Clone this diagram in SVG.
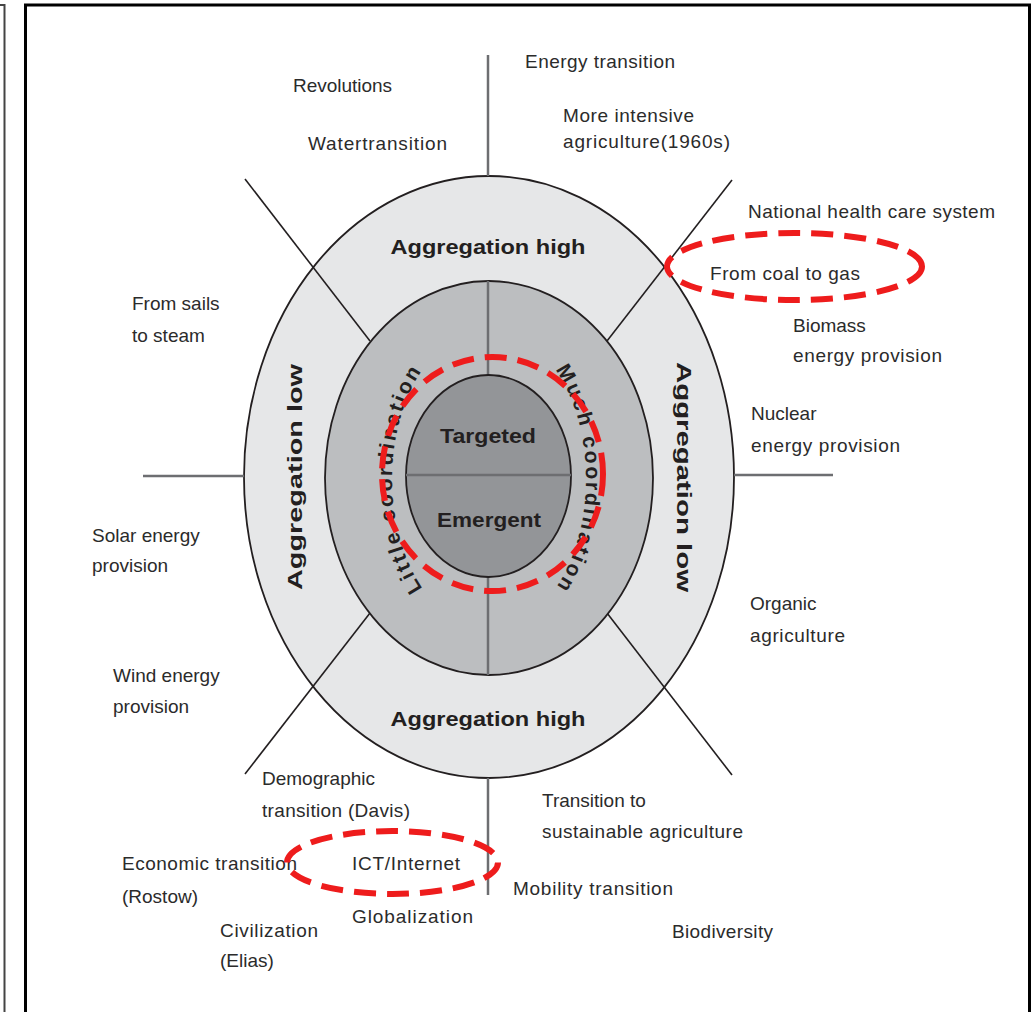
<svg xmlns="http://www.w3.org/2000/svg" width="1032" height="1012" viewBox="0 0 1032 1012">
<style>
.lbl{font-family:"Liberation Sans",Arial,sans-serif;font-size:19px;fill:#2b2b2b}
.bold{font-family:"Liberation Sans",Arial,sans-serif;font-size:21px;font-weight:bold;fill:#231f20}
.curve{font-family:"Liberation Sans",Arial,sans-serif;font-size:21px;font-weight:bold;fill:#231f20;letter-spacing:2.5px}
.spoke{stroke:#6d6e71;stroke-width:2.5;fill:none}
.diag{stroke:#231f20;stroke-width:1.6;fill:none}
.ring{stroke:#231f20;stroke-width:1.8}
.hl{fill:none;stroke:#ee1c1c;stroke-width:6;stroke-dasharray:22 11}
</style>
<defs>
<path id="arcL" d="M489 629 A97 150 0 0 1 489 329"/>
<path id="arcR" d="M489 329 A97 150 0 0 1 489 629"/>
</defs>
<rect width="1032" height="1012" fill="#fff"/>
<g id="frame">
<path d="M0 5 H4.5 V1012" stroke="#444" stroke-width="2" fill="none"/>
<path d="M25.5 1012 V5 H1029.5 V1012" stroke="#000" stroke-width="3" fill="none"/>
</g>
<g id="outer-ring">
<ellipse class="ring" cx="489" cy="477" rx="245" ry="301" fill="#e6e7e8"/>
</g>
<g id="connectors">
<line class="spoke" x1="488" y1="55" x2="488" y2="176"/>
<line class="spoke" x1="488" y1="778" x2="488" y2="895"/>
<line class="spoke" x1="143" y1="476" x2="244" y2="476"/>
<line class="spoke" x1="734" y1="475" x2="833" y2="475"/>
<line class="diag" x1="245" y1="179" x2="370" y2="341"/>
<line class="diag" x1="732" y1="180" x2="607" y2="341"/>
<line class="diag" x1="245" y1="774" x2="370" y2="613"/>
<line class="diag" x1="732" y1="775" x2="607" y2="613"/>
</g>
<g id="middle-ring">
<ellipse class="ring" cx="489" cy="478" rx="164" ry="197" fill="#bcbec0"/>
<line class="spoke" x1="488" y1="281" x2="488" y2="375"/>
<line class="spoke" x1="488" y1="577" x2="488" y2="675"/>
</g>
<g id="core">
<ellipse class="ring" cx="488.5" cy="476" rx="82.5" ry="101" fill="#939598"/>
<line class="spoke" x1="406" y1="475" x2="571" y2="475" stroke="#3a3a3a"/>
</g>
<g id="ring-labels">
<text class="bold" x="488" y="254" text-anchor="middle" textLength="195" lengthAdjust="spacingAndGlyphs">Aggregation high</text>
<text class="bold" x="488" y="726" text-anchor="middle" textLength="195" lengthAdjust="spacingAndGlyphs">Aggregation high</text>
<text class="bold" transform="translate(302 477) rotate(-90)" text-anchor="middle" textLength="226" lengthAdjust="spacingAndGlyphs">Aggregation low</text>
<text class="bold" transform="translate(677 477) rotate(90)" text-anchor="middle" textLength="230" lengthAdjust="spacingAndGlyphs">Aggregation low</text>
<text class="curve"><textPath href="#arcL" startOffset="50%" text-anchor="middle">Little coordination</textPath></text>
<text class="curve"><textPath href="#arcR" startOffset="50%" text-anchor="middle">Much coordination</textPath></text>
<text class="bold" x="488" y="443" text-anchor="middle" textLength="96" lengthAdjust="spacingAndGlyphs">Targeted</text>
<text class="bold" x="489" y="527" text-anchor="middle" textLength="104" lengthAdjust="spacingAndGlyphs">Emergent</text>
</g>
<g id="label-revolutions"><text class="lbl" x="293" y="92" textLength="99">Revolutions</text></g>
<g id="label-water"><text class="lbl" x="308" y="150" textLength="139">Watertransition</text></g>
<g id="label-energy"><text class="lbl" x="525" y="68" textLength="150">Energy transition</text></g>
<g id="label-agri1960"><text class="lbl"><tspan x="563" y="122" textLength="131">More intensive</tspan><tspan x="563" y="148" textLength="167">agriculture(1960s)</tspan></text></g>
<g id="label-health"><text class="lbl" x="748" y="218" textLength="247">National health care system</text></g>
<g id="label-coalgas"><text class="lbl" x="710" y="280" textLength="150">From coal to gas</text></g>
<g id="label-biomass"><text class="lbl"><tspan x="793" y="332">Biomass</tspan><tspan x="793" y="362" textLength="149">energy provision</tspan></text></g>
<g id="label-nuclear"><text class="lbl"><tspan x="751" y="420">Nuclear</tspan><tspan x="751" y="452" textLength="149">energy provision</tspan></text></g>
<g id="label-organic"><text class="lbl"><tspan x="750" y="610">Organic</tspan><tspan x="750" y="642" textLength="95">agriculture</tspan></text></g>
<g id="label-sails"><text class="lbl"><tspan x="132" y="310">From sails</tspan><tspan x="132" y="342">to steam</tspan></text></g>
<g id="label-solar"><text class="lbl"><tspan x="92" y="542">Solar energy</tspan><tspan x="92" y="572">provision</tspan></text></g>
<g id="label-wind"><text class="lbl"><tspan x="113" y="682">Wind energy</tspan><tspan x="113" y="713">provision</tspan></text></g>
<g id="label-demographic"><text class="lbl"><tspan x="262" y="785">Demographic</tspan><tspan x="262" y="817" textLength="148">transition (Davis)</tspan></text></g>
<g id="label-economic"><text class="lbl"><tspan x="122" y="870" textLength="175">Economic transition</tspan><tspan x="122" y="903">(Rostow)</tspan></text></g>
<g id="label-ict"><text class="lbl" x="352" y="870" textLength="108">ICT/Internet</text></g>
<g id="label-globalization"><text class="lbl" x="352" y="923" textLength="121">Globalization</text></g>
<g id="label-civilization"><text class="lbl"><tspan x="220" y="937" textLength="98">Civilization</tspan><tspan x="220" y="967">(Elias)</tspan></text></g>
<g id="label-sustainable"><text class="lbl"><tspan x="542" y="807">Transition to</tspan><tspan x="542" y="838" textLength="201">sustainable agriculture</tspan></text></g>
<g id="label-mobility"><text class="lbl" x="513" y="895" textLength="160">Mobility transition</text></g>
<g id="label-biodiversity"><text class="lbl" x="672" y="938" textLength="101">Biodiversity</text></g>
<g id="highlights">
<ellipse class="hl" cx="794.5" cy="266.5" rx="127.5" ry="33.5"/>
<ellipse class="hl" cx="392.5" cy="862.5" rx="105.5" ry="31.5"/>
<ellipse class="hl" cx="492.5" cy="474" rx="110.5" ry="117"/>
</g>
</svg>
